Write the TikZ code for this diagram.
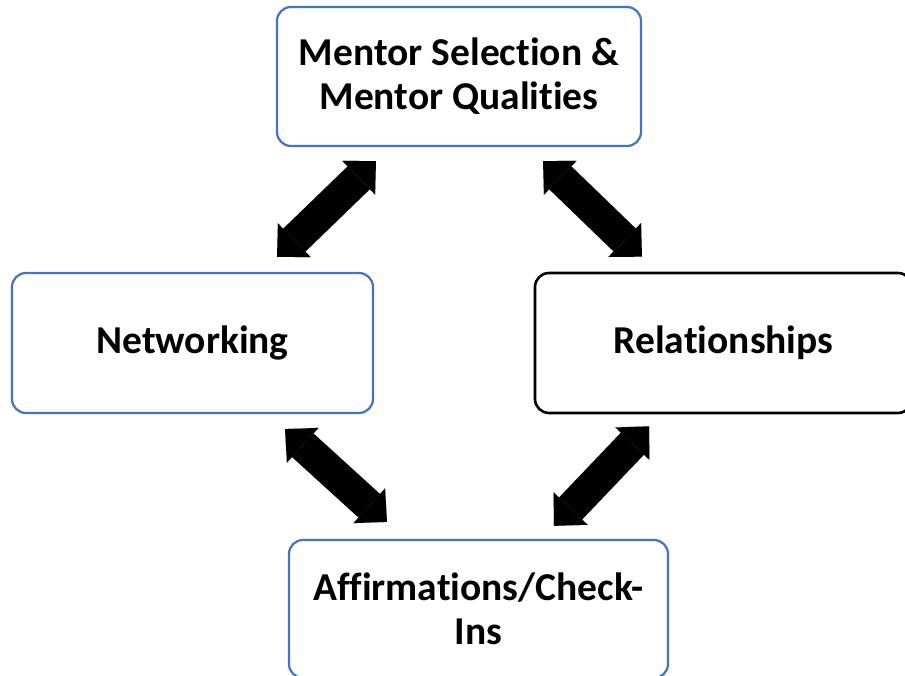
\documentclass[tikz,border=0pt]{standalone}
\usepackage{fontspec}
\setmainfont{Carlito}[Ligatures=NoCommon]
\usetikzlibrary{arrows.meta,calc}

\definecolor{boxblue}{HTML}{4472C4}

\tikzset{
  topic/.style={rectangle, rounded corners=14pt, line width=2.2pt, draw=boxblue,
    fill=white, align=center, inner sep=0pt,
    font=\bfseries\fontsize{39.5}{44}\selectfont},
  dblarrow/.style={line width=32pt, draw=black,
    {Triangle[width=47pt,length=24pt,line width=0.01pt]}-{Triangle[width=47pt,length=24pt,line width=0.01pt]}}
}

\begin{document}
\begin{tikzpicture}[x=1pt,y=-1pt]
  \useasboundingbox (0,0) rectangle (905,676);
  \clip (0,0) rectangle (905,676);

  % the four topic boxes
  \node[topic, minimum width=364pt, minimum height=139pt] (sel) at (459,76.5)
    {Mentor Selection \&\\Mentor Qualities};
  \node[topic, minimum width=361pt, minimum height=140pt] (net) at (192.5,343)
    {Networking};
  \node[topic, draw=black, line width=2.6pt, minimum width=377pt, minimum height=140pt] (rel) at (723.5,343)
    {Relationships};
  \node[topic, minimum width=379pt, minimum height=138pt] (aff) at (478.5,609)
    {Affirmations/Check-\\Ins};

  % two-way links between the topics
  \draw[dblarrow] ($(sel.south)+(-83,14)$) -- ($(net.north)+(84.5,-15)$);
  \draw[dblarrow] ($(sel.south)+(84,14)$) -- ($(rel.north)+(-81.5,-15)$);
  \draw[dblarrow] ($(net.south)+(92.5,15)$) -- ($(aff.north)+(-91.5,-17)$);
  \draw[dblarrow] ($(rel.south)+(-74.5,12)$) -- ($(aff.north)+(75.5,-13)$);
\end{tikzpicture}
\end{document}
